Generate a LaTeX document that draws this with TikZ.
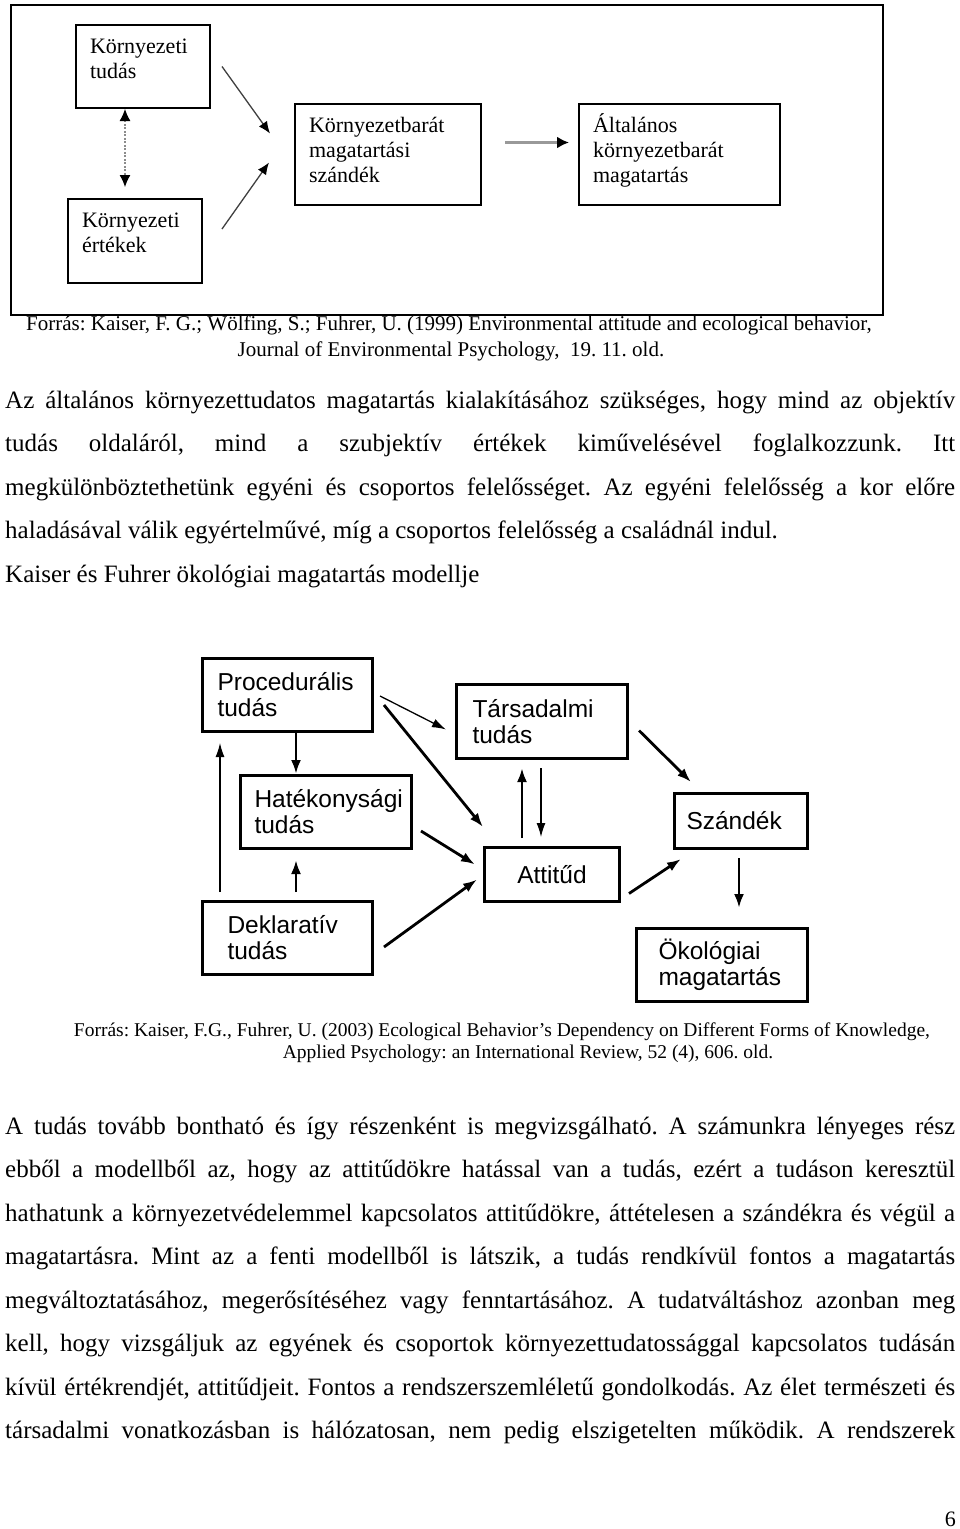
\documentclass[tikz,border=0pt]{standalone}
\usepackage{fontspec}
\setmainfont{Liberation Serif}
\newfontfamily\arialfont{Liberation Sans}
\usetikzlibrary{arrows.meta}
\frenchspacing

\begin{document}
\begin{tikzpicture}[
    x=1pt, y=-1pt,
    oldbox/.style={
        draw,
        line width=2pt,
        anchor=north west,
        align=left,
        inner xsep=14pt,
        inner ysep=8pt,
        text height=20pt,
        font=\fontsize{22}{25}\selectfont
    },
    newbox/.style={
        draw,
        line width=3pt,
        anchor=north west,
        inner ysep=0pt,
        font=\arialfont\fontsize{24.5}{26}\selectfont
    },
    oldarrow/.style={
        line width=1.3pt,
        draw=black!75,
        -{Latex[length=12pt, width=10pt, color=black]}
    },
    thick/.style={
        line width=2.8pt,
        -{Latex[length=14pt, width=10pt]}
    },
    thin/.style={
        line width=1.3pt,
        -{Latex[length=14pt, width=9pt]}
    },
    bodyline/.style={
        anchor=base west,
        inner sep=0pt,
        font=\fontsize{25}{30}\selectfont
    },
    caption/.style={
        anchor=base,
        inner sep=0pt,
        font=\fontsize{19.5}{22}\selectfont
    }
]
    \useasboundingbox[fill=white] (0,0) rectangle (960,1529);

    % first model (1999)
    \node[draw, line width=1.5pt, anchor=north west, minimum width=872,
        minimum height=310, inner sep=0pt] (frameA) at (10,4) {};
    \foreach \name/\x/\y/\tw/\td/\txt in {
        kt/75/24/106/47/{Környezeti\\tudás},
        ke/67/198/106/48/{Környezeti\\értékek},
        kmsz/294/103/158/65/{Környezetbarát\\magatartási\\szándék},
        alt/578/103/173/65/{Általános\\környezetbarát\\magatartás}%
    } {
        \node[oldbox, text width=\tw pt, text depth=\td pt] (\name) at (\x,\y) {\txt};
    }
    \draw[line width=1.2pt, draw=black!45, dash pattern=on 2pt off 1.5pt,
        {Latex[length=12pt, width=11pt, color=black]}-{Latex[length=12pt, width=11pt, color=black]}]
        ([shift={(50,0)}]kt.south west) -- ([shift={(58,-11)}]ke.north west);
    \draw[oldarrow] ([shift={(11,0)}]kt.east) -- ([shift={(-24,-21)}]kmsz.west);
    \draw[oldarrow] ([shift={(19,-12)}]ke.east) -- ([shift={(-25,8)}]kmsz.west);
    \draw[line width=2.7pt, draw=black!40, -{Latex[length=12pt, width=12pt, color=black]}]
        ([shift={(23,-12)}]kmsz.east) -- ([shift={(-9,-12)}]alt.west);

    \node[caption, font=\fontsize{21}{24}\selectfont] (srcA1) at (449,330)
        {Forrás: Kaiser, F. G.; Wölfing, S.; Fuhrer, U. (1999) Environmental attitude and ecological behavior,};
    \node[caption, font=\fontsize{21}{24}\selectfont] (srcA2) at (451,356)
        {Journal of Environmental Psychology,~ 19. 11. old.};

    % text before the second model
    \foreach \name/\yy/\al/\txt in {
        pa1/408/s/{Az általános környezettudatos magatartás kialakításához szükséges, hogy mind az objektív},
        pa2/451.5/s/{tudás oldaláról, mind a szubjektív értékek kiművelésével foglalkozzunk. Itt},
        pa3/495/s/{megkülönböztethetünk egyéni és csoportos felelősséget. Az egyéni felelősség a kor előre},
        pa4/538.5/l/{haladásával válik egyértelművé, míg a csoportos felelősség a családnál indul.},
        pa5/582/l/{Kaiser és Fuhrer ökológiai magatartás modellje}%
    } {
        \node[bodyline] (\name) at (5,\yy) {\makebox[950pt][\al]{\txt}};
    }

    % second model (2003)
    \foreach \name/\x/\y/\bw/\bh/\bi/\ba/\txt in {
        proc/201/657/170/73/15/left/{Procedurális\\tudás},
        tars/455/683/171/74/16/left/{Társadalmi\\tudás},
        hat/239/774/171/73/14/left/{\mbox{Hatékonysági}\\tudás},
        szand/673/792/133/55/12/left/{Szándék},
        att/483/846/135/54/10/center/{Attitűd},
        dekl/201/900/170/73/25/left/{Deklaratív\\tudás},
        okol/635/927/171/73/22/left/{Ökológiai\\magatartás}%
    } {
        \pgfmathsetmacro\btw{\bw-2*\bi}
        \node[newbox, align=\ba, minimum width=\bw, minimum height=\bh,
            inner xsep=\bi, text width=\btw pt] (\name) at (\x,\y) {\txt};
    }
    \foreach \u/\us/\v/\vs/\st in {
        proc.east/{6,1}/tars.west/{-9,8}/thin,
        proc.east/{10,10}/att.north west/{0,-19}/thick,
        proc.south west/{95,0}/hat.north west/{57,0}/thick,
        dekl.north west/{19,-8}/proc.south west/{19,10}/thin,
        dekl.north west/{95,-8}/hat.south west/{57,10}/thick,
        hat.east/{8,19}/att.west/{-8,-10}/thick,
        dekl.east/{10,9}/att.west/{-6,5}/thick,
        att.north west/{39,-8}/tars.south west/{67,8}/thick,
        tars.south west/{86,8}/att.north west/{58,-9}/thin,
        tars.east/{10,9}/szand.north west/{18,-10}/thick,
        att.east/{8,19}/szand.south west/{8,9}/thick,
        szand.south west/{66,8}/okol.north west/{104,-19}/thick%
    } {
        \draw[\st] ([shift={(\us)}]\u) -- ([shift={(\vs)}]\v);
    }

    \node[caption] (srcB1) at (502,1036)
        {Forrás: Kaiser, F.G., Fuhrer, U. (2003) Ecological Behavior’s Dependency on Different Forms of Knowledge,};
    \node[caption] (srcB2) at (528,1058)
        {Applied Psychology: an International Review, 52 (4), 606. old.};

    % text after the second model
    \foreach \name/\yy/\txt in {
        pb1/1134/{A tudás tovább bontható és így részenként is megvizsgálható. A számunkra lényeges rész},
        pb2/1177.5/{ebből a modellből az, hogy az attitűdökre hatással van a tudás, ezért a tudáson keresztül},
        pb3/1221/{hathatunk a környezetvédelemmel kapcsolatos attitűdökre, áttételesen a szándékra és végül a},
        pb4/1264.5/{magatartásra. Mint az a fenti modellből is látszik, a tudás rendkívül fontos a magatartás},
        pb5/1308/{megváltoztatásához, megerősítéséhez vagy fenntartásához. A tudatváltáshoz azonban meg},
        pb6/1351.5/{kell, hogy vizsgáljuk az egyének és csoportok környezettudatossággal kapcsolatos tudásán},
        pb7/1395/{kívül értékrendjét, attitűdjeit. Fontos a rendszerszemléletű gondolkodás. Az élet természeti és},
        pb8/1438.5/{társadalmi vonatkozásban is hálózatosan, nem pedig elszigetelten működik. A rendszerek}%
    } {
        \node[bodyline] (\name) at (5,\yy) {\makebox[950pt][s]{\txt}};
    }

    \node[bodyline, anchor=base east, font=\fontsize{22}{26}\selectfont] (pagenum) at (956,1526) {6};
\end{tikzpicture}
\end{document}
